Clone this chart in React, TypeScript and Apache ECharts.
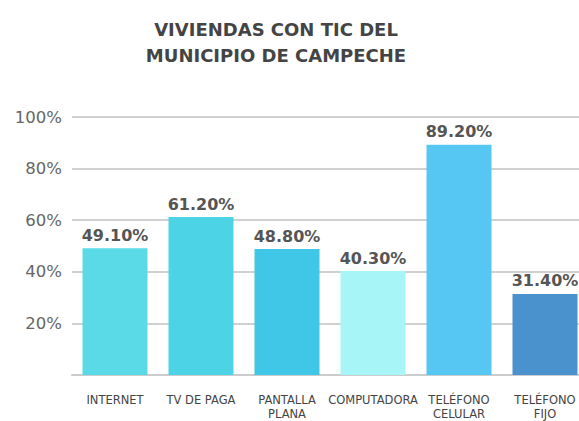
import React, { useEffect, useRef } from "react";
import * as echarts from "echarts";

const categories = ["INTERNET", "TV DE PAGA", "PANTALLA\nPLANA", "COMPUTADORA", "TELÉFONO\nCELULAR", "TELÉFONO\nFIJO"];
const values = [49.1, 61.2, 48.8, 40.3, 89.2, 31.4];
const barColors = ["#5ADAE7", "#4DD3E6", "#40C7E7", "#A8F5F8", "#56C6F3", "#4A92CE"];
const titleLines = ["VIVIENDAS CON TIC DEL", "MUNICIPIO DE CAMPECHE"];

const FONT = "DejaVu Sans";

export default function App() {
  const ref = useRef<HTMLDivElement>(null);
  useEffect(() => {
    const chart = echarts.init(ref.current!, null, { renderer: "svg" });
    chart.setOption({
      animation: false,
      backgroundColor: "#ffffff",
      title: {
        text: titleLines.join("\n"),
        left: 271,
        top: 11,
        textAlign: "center",
        textStyle: {
          fontFamily: FONT,
          fontWeight: "bold",
          fontSize: 18,
          lineHeight: 26,
          color: "#444444",
        },
      },
      grid: { left: 72, right: -9, top: 117, bottom: 46, containLabel: false, outerBoundsMode: "none" },
      xAxis: {
        type: "category",
        data: categories,
        axisLine: { show: true, lineStyle: { color: "#cccccc", width: 2 } },
        axisTick: { show: false },
        axisLabel: {
          interval: 0,
          margin: 18,
          fontFamily: FONT,
          fontSize: 11.5,
          lineHeight: 14,
          color: "#444444",
        },
      },
      yAxis: {
        type: "value",
        min: 0,
        max: 100,
        interval: 20,
        axisLine: { show: false },
        axisTick: { show: false },
        splitLine: { lineStyle: { color: "#d0d0d0", width: 2 } },
        axisLabel: {
          margin: 10,
          fontFamily: FONT,
          fontSize: 16.5,
          color: "#666666",
          formatter: (v: number) => (v === 0 ? "" : v + "%"),
        },
      },
      series: [
        {
          type: "bar",
          barWidth: 65,
          data: values.map((v, i) => ({ value: v, itemStyle: { color: barColors[i] } })),
          label: {
            show: true,
            position: "top",
            distance: 5,
            fontFamily: FONT,
            fontWeight: "bold",
            fontSize: 16,
            color: "#555555",
            formatter: (p: any) => p.value.toFixed(2) + "%",
          },
        },
      ],
    });
    return () => chart.dispose();
  }, []);
  return <div ref={ref} style={{ width: 579, height: 421, position: "fixed", left: 0, top: 0 }} />;
}
